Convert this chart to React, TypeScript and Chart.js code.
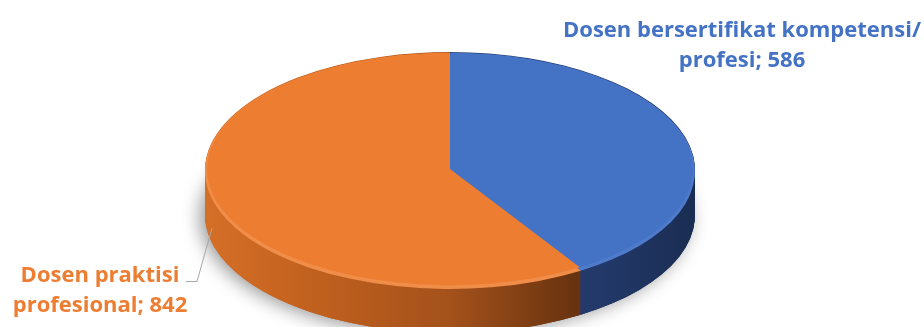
import React, { useEffect, useRef } from "react";
import { Chart, registerables } from "chart.js";

Chart.register(...registerables);

const categories = ["Dosen bersertifikat kompetensi/ profesi", "Dosen praktisi profesional"];
const values = [586, 842];
const labelLines = [
  ["Dosen bersertifikat kompetensi/", "profesi"],
  ["Dosen praktisi", "profesional"],
];
const topColors = ["#4472C4", "#ED7D31"];
const labelColors = ["#4472C4", "#ED7D31"];

const W = 924;
const H = 327;

export default function App() {
  const ref = useRef<HTMLCanvasElement | null>(null);

  useEffect(() => {
    document.body.style.margin = "0";
    const canvas = ref.current!;
    const ell = { cx: 450, cy: 169, rx: 245, ry: 118, depth: 46 };

    const pie3d = {
      id: "pie3d",
      beforeDatasetsDraw(chart: any) {
        const ctx: CanvasRenderingContext2D = chart.ctx;
        const meta = chart.getDatasetMeta(0);
        const els = meta.data;
        if (!els.length) return false;
        const p = els[0].getProps(["x", "y", "outerRadius"], true);
        const ex = p.x, ey = p.y, R = p.outerRadius;
        const applyT = (dy: number) => {
          ctx.translate(ell.cx, ell.cy + dy);
          ctx.scale(ell.rx / R, ell.ry / R);
          ctx.translate(-ex, -ey);
        };
        const drawWith = (el: any, fill: any) => {
          const orig = el.options;
          el.options = { ...orig, backgroundColor: fill, borderWidth: 0 };
          el.draw(ctx);
          el.options = orig;
        };
        const orangeSide = ctx.createLinearGradient(ex - R, 0, ex + R, 0);
        orangeSide.addColorStop(0, "#D56F27");
        orangeSide.addColorStop(0.2, "#C3621F");
        orangeSide.addColorStop(0.5, "#A4511B");
        orangeSide.addColorStop(0.8, "#5E2E0E");
        orangeSide.addColorStop(1, "#4E260C");
        const blueSide = ctx.createLinearGradient(ex - R, 0, ex + R, 0);
        blueSide.addColorStop(0, "#2A4680");
        blueSide.addColorStop(0.8, "#22396A");
        blueSide.addColorStop(1, "#1A2D52");
        const sides = [blueSide, orangeSide];

        ctx.save();
        ctx.shadowColor = "rgba(0,0,0,0.4)";
        ctx.shadowBlur = 18;
        ctx.shadowOffsetX = -5;
        ctx.shadowOffsetY = 2;
        applyT(ell.depth);
        els.forEach((el: any, i: number) => drawWith(el, sides[i]));
        ctx.restore();

        for (let d = ell.depth; d >= 1; d -= 1) {
          ctx.save();
          applyT(d);
          els.forEach((el: any, i: number) => drawWith(el, sides[i]));
          ctx.restore();
        }
        ctx.save();
        applyT(2);
        els.forEach((el: any, i: number) => drawWith(el, i === 1 ? "#F08D48" : "#4E7ACB"));
        ctx.restore();
        ctx.save();
        ctx.translate(ell.cx, ell.cy);
        ctx.scale(ell.rx / R, ell.ry / R);
        ctx.scale(0.992, 0.985);
        ctx.translate(-ex, -ey);
        els.forEach((el: any, i: number) => drawWith(el, topColors[i]));
        ctx.restore();
        return false;
      },
      afterDraw(chart: any) {
        const ctx: CanvasRenderingContext2D = chart.ctx;
        const data = chart.data.datasets[0].data;
        const pos = [
          { x: 742, y: 37 },
          { x: 100, y: 282 },
        ];
        ctx.save();
        ctx.font = "bold 22px 'Open Sans'";
        ctx.textAlign = "center";
        ctx.textBaseline = "alphabetic";
        labelLines.forEach((lines, i) => {
          ctx.fillStyle = labelColors[i];
          lines.forEach((ln, j) => {
            const t = j === lines.length - 1 ? `${ln}; ${data[i]}` : ln;
            ctx.fillText(t, pos[i].x, pos[i].y + j * 30);
          });
        });
        ctx.strokeStyle = "#A6A6A6";
        ctx.lineWidth = 1;
        ctx.beginPath();
        ctx.moveTo(186, 281.5);
        ctx.lineTo(197, 281.5);
        ctx.lineTo(212, 228);
        ctx.stroke();
        ctx.restore();
      },
    };

    const chart = new Chart(canvas, {
      type: "pie",
      data: {
        labels: categories,
        datasets: [
          {
            data: values,
            backgroundColor: topColors,
            borderWidth: 0,
          },
        ],
      },
      options: {
        responsive: false,
        maintainAspectRatio: false,
        animation: false,
        events: [],
        layout: { padding: 0 },
        plugins: {
          legend: { display: false },
          tooltip: { enabled: false },
          title: { display: false },
        },
      },
      plugins: [pie3d],
    });
    return () => chart.destroy();
  }, []);

  return (
    <div style={{ width: W, height: H, position: "relative", background: "#fff" }}>
      <canvas ref={ref} width={W} height={H} style={{ width: W, height: H, display: "block" }} />
    </div>
  );
}
